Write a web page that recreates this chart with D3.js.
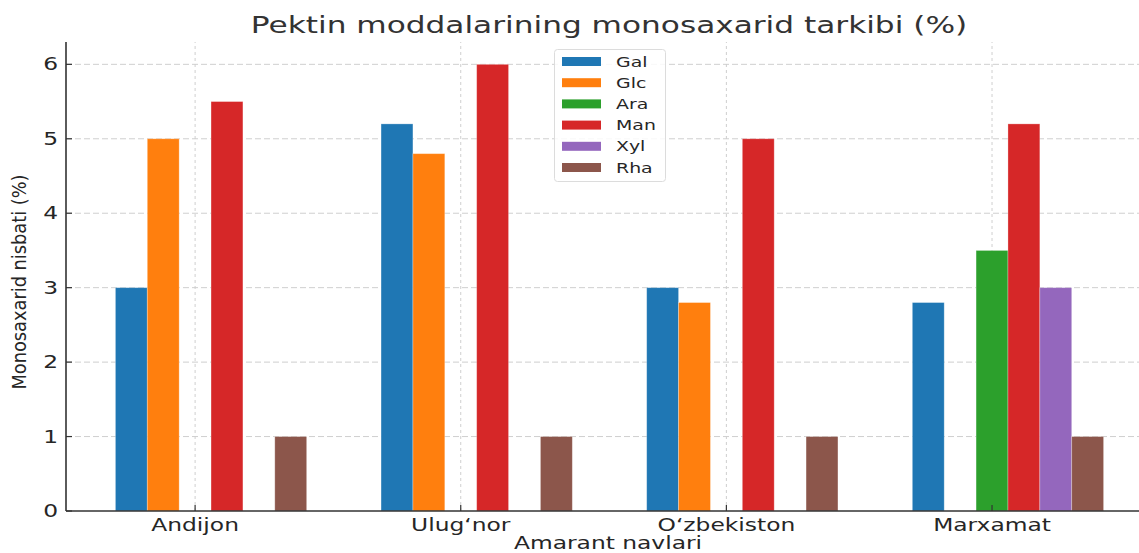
<!DOCTYPE html>
<html><head><meta charset="utf-8">
<script src="https://cdn.jsdelivr.net/npm/d3@7"></script>
<style>body{margin:0;background:#fff}svg{display:block}text{font-family:"DejaVu Sans",sans-serif}</style>
</head><body><div id="c"></div>
<script>
const categories = ["Andijon", "Ulug‘nor", "O‘zbekiston", "Marxamat"];
const seriesNames = ["Gal", "Glc", "Ara", "Man", "Xyl", "Rha"];
const Gal = [3, 5.2, 3, 2.8];
const Glc = [5, 4.8, 2.8, 0];
const Ara = [0, 0, 0, 3.5];
const Man = [5.5, 6, 5, 5.2];
const Xyl = [0, 0, 0, 3];
const Rha = [1, 1, 1, 1];
const yTicks = [0, 1, 2, 3, 4, 5, 6];
const colors = ["#1f77b4", "#ff7f0e", "#2ca02c", "#d62728", "#9467bd", "#8c564b"];
const series = [Gal, Glc, Ara, Man, Xyl, Rha];

const W = 1139, H = 553, SX = 1.35;
const barW = 0.12;
const svg = d3.select("#c").append("svg").attr("width", W).attr("height", H);

const x = d3.scaleLinear().domain([-0.486, 3.606]).range([66, 1153]);
const y = d3.scaleLinear().domain([0, 6.3]).range([511, 42]);

function stext(g, tx, ty, str, size, anchor, sx, rot) {
  const t = g.append("text")
    .attr("transform", `translate(${tx},${ty}) scale(${sx},1)` + (rot ? ` rotate(${rot})` : ""))
    .attr("text-anchor", anchor).attr("font-size", size).attr("fill", "#262626").text(str);
  return t;
}

// grid
const grid = svg.append("g");
grid.selectAll("line.h").data(yTicks.filter(d => d > 0)).join("line")
  .attr("x1", x.range()[0]).attr("x2", x.range()[1])
  .attr("y1", d => y(d)).attr("y2", d => y(d))
  .attr("stroke", "#cfcfcf").attr("stroke-width", 1).attr("stroke-dasharray", "6,3");
grid.selectAll("line.v").data(categories.map((c, i) => i)).join("line")
  .attr("x1", d => x(d)).attr("x2", d => x(d))
  .attr("y1", y.range()[0]).attr("y2", y.range()[1])
  .attr("stroke", "#cfcfcf").attr("stroke-width", 1).attr("stroke-dasharray", "3,3");

// bars
series.forEach((vals, si) => {
  svg.append("g").selectAll("rect").data(vals.map((v, i) => ({ v, i }))).join("rect")
    .attr("x", d => x(d.i + (si - 2) * barW - barW / 2))
    .attr("width", x(barW) - x(0))
    .attr("y", d => y(d.v))
    .attr("height", d => y(0) - y(d.v))
    .attr("fill", colors[si])
    .attr("stroke", "rgba(255,255,255,0.35)").attr("stroke-width", 0.8);
});

// axes
const axisG = svg.append("g");
axisG.append("line").attr("x1", 66).attr("x2", 66).attr("y1", y.range()[1]).attr("y2", y(0))
  .attr("stroke", "#333").attr("stroke-width", 1.6);
axisG.append("line").attr("x1", 66).attr("x2", 1153).attr("y1", y(0)).attr("y2", y(0))
  .attr("stroke", "#333").attr("stroke-width", 1.6);
// y ticks (inward)
yTicks.forEach(t => {
  axisG.append("line").attr("x1", 66).attr("x2", 72).attr("y1", y(t)).attr("y2", y(t))
    .attr("stroke", "#333").attr("stroke-width", 1.2);
  stext(axisG, 58, y(t) + 6, String(t), 17.3, "end", SX);
});
// x ticks
categories.forEach((c, i) => {
  axisG.append("line").attr("x1", x(i)).attr("x2", x(i)).attr("y1", y(0)).attr("y2", y(0) - 6)
    .attr("stroke", "#333").attr("stroke-width", 1.2);
  stext(axisG, x(i), 531, c, 17.3, "middle", SX);
});

// labels
stext(svg, 608, 549, "Amarant navlari", 17.3, "middle", SX);
stext(svg, 26, 282, "Monosaxarid nisbati (%)", 17.8, "middle", 1.12, -90);
stext(svg, 609, 33, "Pektin moddalarining monosaxarid tarkibi (%)", 23.1, "middle", SX).attr("fill", "#333");

// legend
const lg = svg.append("g");
lg.append("rect").attr("x", 554.5).attr("y", 49.5).attr("width", 111).attr("height", 132)
  .attr("rx", 3).attr("fill", "#fff").attr("fill-opacity", 0.85).attr("stroke", "#dcdcdc").attr("stroke-width", 1);
seriesNames.forEach((n, i) => {
  const cy = 61.5 + i * 21.2;
  lg.append("rect").attr("x", 562).attr("y", cy - 4.5).attr("width", 39).attr("height", 9).attr("fill", colors[i]);
  stext(lg, 616, cy + 5, n, 14, "start", SX);
});
</script></body></html>
